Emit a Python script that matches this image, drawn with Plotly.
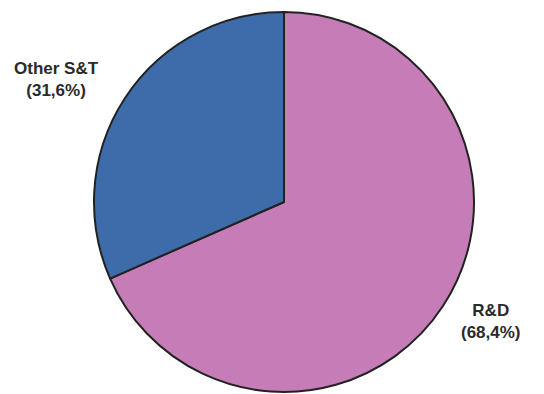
import plotly.graph_objects as go

labels = ["R&D", "Other S&T"]
values = [68.4, 31.6]
label_text = ["R&D<br>(68,4%)", "Other S&T<br>(31,6%)"]
colors = ["#C67CB6", "#3E6CAA"]

W, H = 544, 394
cx, cy, r = 284, 202, 190

fig = go.Figure(go.Pie(
    labels=labels, values=values, sort=False, direction="clockwise", rotation=0,
    marker=dict(colors=colors, line=dict(color="#222222", width=2)),
    textinfo="none", hoverinfo="label+percent", showlegend=False,
    domain=dict(x=[(cx - r) / W, (cx + r) / W], y=[(H - cy - r) / H, (H - cy + r) / H]),
))

fig.add_annotation(x=56 / W, y=1 - 79 / H, xref="paper", yref="paper",
                   text="<b>" + label_text[1] + "</b>", showarrow=False,
                   font=dict(family="Liberation Sans, Arial", size=17, color="#2a2a2a"),
                   align="center", xanchor="center", yanchor="middle")
fig.add_annotation(x=491 / W, y=1 - 321 / H, xref="paper", yref="paper",
                   text="<b>" + label_text[0] + "</b>", showarrow=False,
                   font=dict(family="Liberation Sans, Arial", size=17, color="#2a2a2a"),
                   align="center", xanchor="center", yanchor="middle")

fig.update_layout(width=W, height=H, margin=dict(l=0, r=0, t=0, b=0),
                  paper_bgcolor="white", plot_bgcolor="white")
fig.write_html("out.html")
